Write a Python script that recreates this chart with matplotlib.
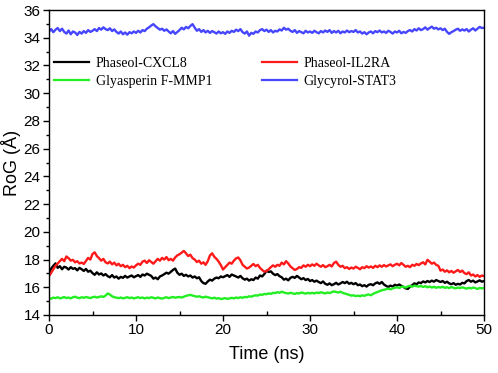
import numpy as np
import matplotlib
matplotlib.use("Agg")
import matplotlib.pyplot as plt
from matplotlib.ticker import MultipleLocator

time_ns = np.linspace(0, 50, 201)

cxcl8 = [
    17.00, 17.35, 17.55, 17.72, 17.40, 17.52, 17.30, 17.48, 17.42, 17.28, 17.45, 17.33, 17.38, 17.22, 17.40, 17.30, 17.18, 17.32, 17.12, 17.20,
    17.02, 16.90, 17.08, 16.92, 17.00, 16.85, 16.95, 16.80, 16.72, 16.88, 16.70, 16.78, 16.62, 16.75, 16.68, 16.82, 16.70, 16.78, 16.85, 16.72,
    16.80, 16.88, 16.75, 16.92, 16.85, 16.98, 16.90, 16.82, 16.62, 16.70, 16.58, 16.78, 16.85, 16.95, 17.05, 16.98, 17.12, 17.25, 17.35, 17.05,
    16.90, 16.98, 16.82, 16.90, 16.78, 16.85, 16.70, 16.78, 16.65, 16.72, 16.45, 16.30, 16.25, 16.42, 16.55, 16.48, 16.62, 16.70, 16.65, 16.78,
    16.72, 16.80, 16.88, 16.75, 16.92, 16.85, 16.78, 16.70, 16.82, 16.65, 16.55, 16.62, 16.48, 16.58, 16.52, 16.70, 16.62, 16.85, 16.78, 16.95,
    17.20, 17.10, 17.15, 16.98, 16.88, 16.95, 16.80, 16.72, 16.55, 16.62, 16.50, 16.68, 16.75, 16.68, 16.82, 16.70, 16.58, 16.66, 16.52, 16.60,
    16.45, 16.52, 16.40, 16.48, 16.38, 16.30, 16.42, 16.25, 16.18, 16.28, 16.15, 16.22, 16.32, 16.20, 16.28, 16.38, 16.30, 16.40, 16.25, 16.32,
    16.22, 16.30, 16.15, 16.20, 16.08, 16.15, 16.05, 16.18, 16.22, 16.15, 16.28, 16.35, 16.25, 16.38, 16.20, 16.10, 16.02, 16.12, 16.05, 16.18,
    16.12, 16.20, 16.10, 16.02, 15.92, 15.88, 16.05, 16.15, 16.28, 16.22, 16.35, 16.30, 16.42, 16.35, 16.45, 16.38, 16.48, 16.40, 16.52, 16.45,
    16.38, 16.45, 16.32, 16.40, 16.28, 16.22, 16.30, 16.18, 16.25, 16.20, 16.32, 16.28, 16.45, 16.52, 16.40, 16.48, 16.35, 16.42, 16.50, 16.40,
    16.45,
]

il2ra = [
    16.80, 17.05, 17.30, 17.55, 17.72, 17.90, 18.05, 17.88, 18.22, 18.10, 17.92, 17.98, 17.80, 17.88, 17.72, 17.78, 17.68, 17.90, 18.12, 18.00,
    18.40, 18.52, 18.25, 18.10, 17.92, 18.05, 17.80, 17.72, 17.85, 17.65, 17.78, 17.58, 17.70, 17.52, 17.62, 17.45, 17.55, 17.38, 17.50, 17.42,
    17.58, 17.70, 17.62, 17.85, 17.92, 17.75, 17.95, 17.82, 17.70, 17.88, 18.05, 17.92, 18.12, 18.00, 18.18, 17.95, 18.05, 17.92, 18.15, 18.30,
    18.38, 18.50, 18.62, 18.45, 18.25, 18.35, 18.10, 18.00, 17.82, 17.92, 17.70, 17.80, 17.62, 17.88, 18.30, 18.45, 18.20, 18.05, 17.85, 17.60,
    17.28, 17.45, 17.62, 17.78, 17.70, 17.92, 18.08, 18.15, 17.95, 17.62, 17.48, 17.35, 17.42, 17.55, 17.68, 17.52, 17.62, 17.40, 17.25, 17.12,
    17.18, 17.30, 17.45, 17.58, 17.48, 17.62, 17.55, 17.78, 17.65, 17.88, 17.72, 17.50, 17.38, 17.25, 17.32, 17.45, 17.40, 17.58, 17.48, 17.62,
    17.52, 17.65, 17.55, 17.70, 17.58, 17.48, 17.60, 17.45, 17.52, 17.62, 17.50, 17.75, 17.85, 17.62, 17.48, 17.55, 17.38, 17.45, 17.32, 17.42,
    17.35, 17.48, 17.40, 17.30, 17.45, 17.38, 17.52, 17.42, 17.50, 17.40, 17.55, 17.45, 17.58, 17.48, 17.60, 17.50, 17.58, 17.65, 17.52, 17.62,
    17.70, 17.58, 17.75, 17.62, 17.48, 17.55, 17.45, 17.62, 17.55, 17.68, 17.60, 17.72, 17.80, 17.65, 17.98, 17.85, 17.70, 17.78, 17.62, 17.55,
    17.20, 17.28, 17.12, 17.22, 17.08, 17.18, 17.05, 17.15, 17.25, 17.10, 17.20, 17.02, 16.95, 17.08, 16.85, 16.92, 16.78, 16.88, 16.75, 16.85,
    16.80,
]

mmp1 = [
    15.20, 15.18, 15.25, 15.22, 15.28, 15.20, 15.24, 15.30, 15.22, 15.26, 15.20, 15.28, 15.32, 15.25, 15.22, 15.28, 15.24, 15.30, 15.26, 15.22,
    15.28, 15.32, 15.26, 15.30, 15.35, 15.30, 15.40, 15.55, 15.48, 15.35, 15.28, 15.25, 15.22, 15.26, 15.20, 15.24, 15.28, 15.22, 15.26, 15.20,
    15.24, 15.28, 15.22, 15.26, 15.20, 15.25, 15.22, 15.28, 15.24, 15.20, 15.26, 15.22, 15.18, 15.24, 15.28, 15.22, 15.26, 15.30, 15.25, 15.28,
    15.30, 15.26, 15.32, 15.38, 15.42, 15.45, 15.40, 15.36, 15.32, 15.35, 15.30, 15.26, 15.32, 15.28, 15.24, 15.20, 15.25, 15.18, 15.22, 15.15,
    15.18, 15.22, 15.16, 15.20, 15.24, 15.20, 15.26, 15.22, 15.28, 15.24, 15.30, 15.28, 15.35, 15.32, 15.38, 15.42, 15.40, 15.48, 15.45, 15.52,
    15.50, 15.56, 15.52, 15.60, 15.58, 15.65, 15.60, 15.68, 15.62, 15.58, 15.55, 15.60, 15.56, 15.52, 15.58, 15.55, 15.62, 15.58, 15.54, 15.60,
    15.56, 15.60, 15.55, 15.62, 15.58, 15.64, 15.60, 15.56, 15.62, 15.58, 15.65, 15.70, 15.66, 15.62, 15.68, 15.60, 15.55, 15.50, 15.45, 15.40,
    15.42, 15.36, 15.40, 15.35, 15.42, 15.38, 15.45, 15.48, 15.42, 15.52, 15.60, 15.66, 15.72, 15.78, 15.82, 15.86, 15.90, 15.85, 15.92, 15.96,
    16.00, 15.95, 16.02, 16.05, 15.98, 16.06, 16.10, 16.04, 16.12, 16.08, 16.05, 16.10, 16.02, 16.08, 16.00, 16.05, 15.98, 16.04, 15.96, 16.02,
    15.98, 16.04, 15.96, 16.00, 15.94, 16.02, 15.96, 15.92, 15.98, 15.94, 16.00, 15.95, 15.90, 15.96, 15.92, 15.98, 15.94, 15.88, 15.95, 15.92,
    15.95,
]

stat3 = [
    34.45, 34.62, 34.40, 34.58, 34.70, 34.48, 34.65, 34.42, 34.30, 34.52, 34.25, 34.45, 34.38, 34.20, 34.42, 34.30, 34.48, 34.35, 34.55, 34.42,
    34.50, 34.62, 34.48, 34.70, 34.58, 34.75, 34.62, 34.55, 34.68, 34.48, 34.60, 34.42, 34.30, 34.45, 34.25, 34.38, 34.22, 34.40, 34.32, 34.45,
    34.35, 34.50, 34.38, 34.55, 34.48, 34.65, 34.75, 34.88, 34.98, 34.82, 34.70, 34.58, 34.65, 34.50, 34.60, 34.45, 34.32, 34.48, 34.28, 34.42,
    34.55, 34.72, 34.60, 34.78, 34.68, 34.85, 34.98, 34.72, 34.50, 34.62, 34.42, 34.55, 34.38, 34.50, 34.35, 34.48, 34.40, 34.30, 34.45, 34.32,
    34.40, 34.28, 34.45, 34.35, 34.50, 34.42, 34.58, 34.48, 34.62, 34.40, 34.30, 34.45, 34.15, 34.35, 34.28, 34.45, 34.38, 34.55, 34.62, 34.48,
    34.58, 34.42, 34.55, 34.38, 34.50, 34.45, 34.60, 34.52, 34.72, 34.58, 34.65, 34.50, 34.42, 34.55, 34.35, 34.48, 34.40, 34.32, 34.50, 34.38,
    34.45, 34.35, 34.50, 34.40, 34.32, 34.48, 34.38, 34.52, 34.42, 34.55, 34.35, 34.48, 34.38, 34.50, 34.32, 34.45, 34.38, 34.52, 34.40, 34.48,
    34.42, 34.55, 34.38, 34.45, 34.30, 34.40, 34.25, 34.38, 34.45, 34.32, 34.48, 34.40, 34.52, 34.38, 34.45, 34.35, 34.50, 34.42, 34.30, 34.45,
    34.38, 34.50, 34.32, 34.42, 34.35, 34.48, 34.55, 34.45, 34.62, 34.52, 34.68, 34.55, 34.62, 34.75, 34.58, 34.70, 34.80, 34.65, 34.72, 34.60,
    34.68, 34.55, 34.65, 34.42, 34.28, 34.40, 34.48, 34.58, 34.65, 34.50, 34.60, 34.52, 34.62, 34.45, 34.58, 34.68, 34.52, 34.65, 34.78, 34.70,
    34.72,
]

plt.rcParams["font.family"] = ["Liberation Sans", "DejaVu Sans"]

fig = plt.figure(figsize=(4.98, 3.73), dpi=100)
ax = fig.add_axes([49 / 498, 58 / 373, 435 / 498, 305 / 373])

lw = 1.7
ax.plot(time_ns, cxcl8, color="black", lw=lw, label="Phaseol-CXCL8")
ax.plot(time_ns, mmp1, color="#22ee22", lw=lw, label="Glyasperin F-MMP1")
ax.plot(time_ns, il2ra, color="#ff1a1a", lw=lw, label="Phaseol-IL2RA")
ax.plot(time_ns, stat3, color="#4646ff", lw=lw, label="Glycyrol-STAT3")

ax.set_xlim(0, 50)
ax.set_ylim(14, 36)
ax.xaxis.set_major_locator(MultipleLocator(10))
ax.xaxis.set_minor_locator(MultipleLocator(5))
ax.yaxis.set_major_locator(MultipleLocator(2))
ax.yaxis.set_minor_locator(MultipleLocator(1))
ax.tick_params(axis="both", which="major", direction="out", length=4, width=1, labelsize=11, pad=2)
ax.tick_params(axis="x", which="minor", direction="in", length=3, width=1)
ax.tick_params(axis="y", which="minor", direction="out", length=2.5, width=1)
for s in ax.spines.values():
    s.set_linewidth(1.0)

ax.set_xlabel("Time (ns)", fontsize=13, labelpad=6)
ax.set_ylabel("RoG (Å)", fontsize=13, labelpad=2)

leg = ax.legend(ncol=2, loc="upper left", bbox_to_anchor=(54 / 498, 1 - 57 / 373),
                bbox_transform=fig.transFigure, frameon=False, borderpad=0, borderaxespad=0,
                handlelength=2.5, handletextpad=0.5, columnspacing=3.6, labelspacing=0.35,
                prop={"family": ["Liberation Serif"], "size": 10})
for line in leg.get_lines():
    line.set_linewidth(1.6)

fig.savefig("out.png", dpi=100)
